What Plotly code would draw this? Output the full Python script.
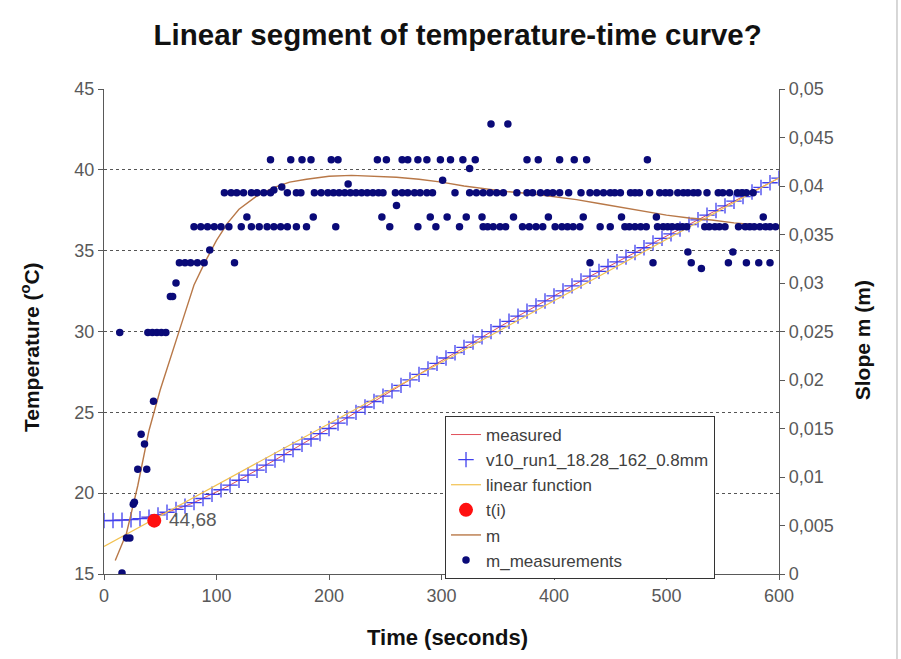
import plotly.graph_objects as go

# ---------------- data ----------------
time_s = [0, 8, 16, 24, 32, 40, 48, 56, 64, 72, 80, 88, 96, 104, 112, 120, 128, 136, 144, 152,
          160, 168, 176, 184, 192, 200, 208, 216, 224, 232, 240, 248, 256, 264, 272, 280, 288, 296,
          304, 312, 320, 328, 336, 344, 352, 360, 368, 376, 384, 392, 400, 408, 416, 424, 432, 440,
          448, 456, 464, 472, 480, 488, 496, 504, 512, 520, 528, 536, 544, 552, 560, 568, 576, 584,
          592, 600]
temperature = [18.30, 18.31, 18.33, 18.36, 18.42, 18.52, 18.66, 18.82, 19.00, 19.20, 19.42, 19.67,
               19.93, 20.21, 20.50, 20.80, 21.11, 21.42, 21.73, 22.05, 22.38, 22.70, 23.03, 23.35,
               23.68, 24.00, 24.33, 24.66, 25.00, 25.33, 25.67, 26.00, 26.33, 26.67, 27.01, 27.35,
               27.69, 28.03, 28.36, 28.69, 29.02, 29.34, 29.67, 29.99, 30.31, 30.63, 30.95, 31.26,
               31.58, 31.89, 32.20, 32.51, 32.82, 33.12, 33.42, 33.72, 34.02, 34.31, 34.60, 34.89,
               35.18, 35.47, 35.76, 36.04, 36.33, 36.62, 36.91, 37.20, 37.48, 37.77, 38.06, 38.34,
               38.63, 38.91, 39.20, 39.49]

linear_t = [0, 600]
linear_T = [16.7, 39.5]

ti_t = [44.68]
ti_T = [18.3]
ti_label = "44,68"

m_t = [10, 20, 30, 40, 50, 60, 70, 80, 90, 100, 110, 120, 135, 150, 165, 180, 200, 220, 240, 260,
       280, 300, 320, 340, 360, 380, 400, 420, 440, 460, 480, 500, 520, 540, 560, 580, 600]
m_val = [0.0014, 0.0042, 0.0091, 0.0148, 0.0190, 0.0225, 0.0262, 0.0298, 0.0322, 0.0344, 0.0362,
         0.0376, 0.0389, 0.0398, 0.0404, 0.0407, 0.0410, 0.0411, 0.0410, 0.0409, 0.0407, 0.0404,
         0.0400, 0.0397, 0.0394, 0.0392, 0.0389, 0.0386, 0.0382, 0.0378, 0.0374, 0.0370, 0.0367,
         0.0365, 0.0362, 0.0360, 0.0358]

# m measurements (grouped by value level)
early_t = [14, 16, 20, 23, 26, 27, 30, 33, 36, 38, 39, 43, 44, 47, 51, 55, 59, 61, 64, 94,
           151, 158, 217, 301, 325, 260, 519, 559, 531]
early_m = [0.0249, 0.0001, 0.0037, 0.0037, 0.0072, 0.0074, 0.0108, 0.0144, 0.0134, 0.0108,
           0.0249, 0.0249, 0.0178, 0.0249, 0.0249, 0.0249, 0.0286, 0.0286, 0.0300, 0.0334,
           0.0396, 0.0399, 0.0402, 0.0406, 0.0418, 0.0380, 0.0332, 0.0332, 0.0315]
lvl32_t = [67, 72, 77, 83, 89, 116, 432, 488, 522, 555, 571, 582, 592]
lvl36_t = [80, 86, 92, 98, 104, 111, 122, 131, 138, 145, 151, 157, 163, 171, 180, 206, 254, 279,
           295, 316, 337, 341, 346, 352, 357, 372, 378, 384, 390, 401, 407, 412, 417, 423, 441,
           450, 463, 467, 472, 477, 482, 492, 497, 501, 505, 510, 514, 518, 534, 538, 543, 547,
           552, 564, 570, 574, 578, 583, 588, 592, 597]
lvl37_t = [127, 186, 247, 290, 305, 322, 336, 364, 395, 426, 460, 491, 586]
lvl39_t = [107, 113, 118, 124, 131, 136, 142, 148, 163, 171, 175, 187, 193, 199, 204, 209, 214,
           219, 224, 229, 234, 239, 244, 248, 259, 265, 270, 276, 281, 287, 292, 312, 325, 331,
           337, 343, 349, 355, 367, 376, 381, 388, 394, 399, 405, 413, 424, 432, 438, 444, 450,
           454, 459, 468, 472, 476, 485, 494, 499, 503, 510, 515, 519, 524, 528, 536, 546, 550,
           556, 563, 567, 571, 577]
lvl43_t = [148, 166, 176, 184, 202, 208, 243, 251, 265, 270, 279, 287, 299, 308, 319, 330, 376,
           386, 405, 418, 429, 483]
lvl46_t = [344, 359]

meas_t = early_t + lvl32_t + lvl36_t + lvl37_t + lvl39_t + lvl43_t + lvl46_t
meas_m = (early_m + [0.0321] * len(lvl32_t) + [0.0358] * len(lvl36_t) + [0.0368] * len(lvl37_t)
          + [0.0393] * len(lvl39_t) + [0.0427] * len(lvl43_t) + [0.0464] * len(lvl46_t))

x_ticks = [0, 100, 200, 300, 400, 500, 600]
y_ticks = [15, 20, 25, 30, 35, 40, 45]
y2_ticks = [0, 0.005, 0.01, 0.015, 0.02, 0.025, 0.03, 0.035, 0.04, 0.045, 0.05]
y2_text = ["0", "0,005", "0,01", "0,015", "0,02", "0,025", "0,03", "0,035", "0,04", "0,045", "0,05"]

# ---------------- figure ----------------
FONT = "Liberation Sans, Arial, sans-serif"
fig = go.Figure()

fig.add_trace(go.Scatter(x=time_s, y=temperature, mode="lines", name="measured",
                         line=dict(color="#e0505a", width=1)))
fig.add_trace(go.Scatter(x=time_s, y=temperature, mode="markers", name="v10_run1_18.28_162_0.8mm",
                         marker=dict(symbol="cross-thin", size=11, line=dict(color="#4040ee", width=1.3))))
fig.add_trace(go.Scatter(x=linear_t, y=linear_T, mode="lines", name="linear function",
                         line=dict(color="#f2c14e", width=1.2)))
fig.add_trace(go.Scatter(x=ti_t, y=ti_T, mode="markers", name="t(i)",
                         marker=dict(color="#ff1010", size=14)))
fig.add_trace(go.Scatter(x=m_t, y=m_val, mode="lines", name="m", yaxis="y2",
                         line=dict(color="#b87848", width=1.4)))
fig.add_trace(go.Scatter(x=meas_t, y=meas_m, mode="markers", name="m_measurements", yaxis="y2",
                         marker=dict(color="#0a0a78", size=7.5)))

fig.add_annotation(x=ti_t[0], y=ti_T[0], text=ti_label, showarrow=False, xanchor="left",
                   xshift=13, yshift=1, font=dict(family=FONT, size=19, color="#595959"))

axis_common = dict(showline=True, linecolor="#595959", linewidth=1.2, ticks="outside",
                   ticklen=5, tickcolor="#595959", zeroline=False,
                   tickfont=dict(family=FONT, size=18, color="#595959"))

fig.update_layout(
    width=901, height=659,
    margin=dict(l=104, r=122, t=89, b=85),
    paper_bgcolor="white", plot_bgcolor="white",
    showlegend=True,
    title=dict(text="<b>Linear segment of temperature-time curve?</b>", x=0.508, y=0.947,
               xanchor="center", yanchor="middle",
               font=dict(family=FONT, size=29.5, color="#111111")),
    xaxis=dict(range=[0, 600], tickvals=x_ticks, showgrid=False, **axis_common),
    yaxis=dict(range=[15, 45], tickvals=y_ticks, showgrid=True, gridcolor="#555555",
               griddash="3px,3px", gridwidth=1, **axis_common),
    yaxis2=dict(range=[0, 0.05], tickvals=y2_ticks, ticktext=y2_text, overlaying="y",
                side="right", showgrid=False, **axis_common),
    legend=dict(x=0.5052, y=0.3258, xanchor="left", yanchor="top", bgcolor="white",
                bordercolor="#333333", borderwidth=1,
                font=dict(family=FONT, size=17, color="#404040"), tracegroupgap=0),
)

fig.add_annotation(text="<b>Time (seconds)</b>", xref="paper", yref="paper", x=0.5096, y=-0.13,
                   showarrow=False, xanchor="center", yanchor="middle",
                   font=dict(family=FONT, size=22, color="#111111"))
fig.add_annotation(text="<b>Temperature (<sup>o</sup>C)</b>", xref="paper", yref="paper",
                   x=-0.1096, y=0.468, showarrow=False, textangle=-90, xanchor="center",
                   yanchor="middle", font=dict(family=FONT, size=21, color="#111111"))
fig.add_annotation(text="<b>Slope m (m)</b>", xref="paper", yref="paper", x=1.123, y=0.482,
                   showarrow=False, textangle=-90, xanchor="center", yanchor="middle",
                   font=dict(family=FONT, size=21, color="#111111"))

fig.add_shape(type="line", xref="paper", yref="paper", x0=1.1748, x1=1.1748, y0=-0.1753,
              y1=1.1835, line=dict(color="#b0b0b0", width=1))

fig.write_html("out.html")
